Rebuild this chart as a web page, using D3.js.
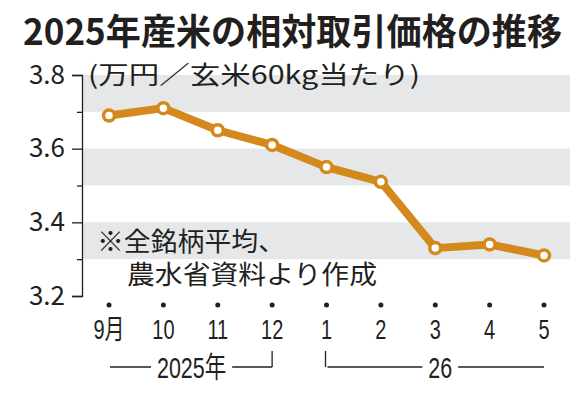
<!DOCTYPE html>
<html><head><meta charset="utf-8">
<script src="https://cdn.jsdelivr.net/npm/d3@7"></script>
<style>
html,body{margin:0;padding:0;background:#fff;}
svg{display:block;}
text{font-family:"Noto Sans CJK JP","Noto Sans",sans-serif;fill:#231f20;}
.dig{font-family:"Liberation Sans","Noto Sans CJK JP",sans-serif;}
</style></head>
<body>
<svg id="c" width="586" height="400"></svg>
<script>
const months = ["9月","10","11","12","1","2","3","4","5"];
const prices = [3.69, 3.71, 3.65, 3.61, 3.55, 3.51, 3.33, 3.34, 3.31];
const yTicks = [3.2, 3.4, 3.6, 3.8];
const yMinor = [3.3, 3.5, 3.7];
const bands = [[3.7, 3.8], [3.5, 3.6], [3.3, 3.4]];
const yearGroups = [
  {label:"2025年", from:"9月", to:"12", side:"right"},
  {label:"26", from:"1", to:"5", side:"left"}
];
const title = "2025年産米の相対取引価格の推移";
const unitLabel = "(万円／玄米60kg当たり)";
const noteLines = ["※全銘柄平均、", "農水省資料より作成"];

const svg = d3.select("#c");
const x = d3.scalePoint().domain(months).range([109, 544]);
const y = d3.scaleLinear().domain([3.2, 3.8]).range([296, 75]);
const axisX = 82, bandRight = 570;
const orange = "#d4891c";

// title
svg.append("text").attr("x", 23).attr("y", 45)
  .attr("font-size", 36).attr("font-weight", "bold")
  .attr("textLength", 539).attr("lengthAdjust", "spacingAndGlyphs")
  .text(title);

// bands
svg.append("g").selectAll("rect").data(bands).join("rect")
  .attr("x", axisX + 1).attr("width", bandRight - axisX - 1)
  .attr("y", d => y(d[1])).attr("height", d => y(d[0]) - y(d[1]))
  .attr("fill", "#e6e7e8");

// y axis
const gy = svg.append("g").attr("transform", `translate(${axisX},0)`)
  .call(d3.axisLeft(y).tickValues(yTicks).tickSize(10).tickSizeOuter(10).tickPadding(7)
    .tickFormat(d3.format(".1f")));
gy.selectAll("path,line").attr("stroke", "#231f20").attr("stroke-width", 1.3);
gy.selectAll("text").attr("font-size", 26).attr("font-family", "'Liberation Sans',sans-serif").attr("fill", "#231f20");
const gyMinor = svg.append("g").attr("transform", `translate(${axisX},0)`)
  .call(d3.axisLeft(y).tickValues(yMinor).tickSize(5).tickFormat(""));
gyMinor.select(".domain").remove();
gyMinor.selectAll("line").attr("stroke", "#231f20").attr("stroke-width", 1.3);

// unit label
svg.append("text").attr("x", 88).attr("y", 84)
  .attr("font-size", 25).attr("textLength", 332).attr("lengthAdjust", "spacingAndGlyphs")
  .text(unitLabel);

// note
svg.append("text").attr("x", 97).attr("y", 251).attr("font-size", 26)
  .attr("textLength", 188).attr("lengthAdjust", "spacingAndGlyphs").text(noteLines[0]);
svg.append("text").attr("x", 127).attr("y", 284).attr("font-size", 26)
  .attr("textLength", 250).attr("lengthAdjust", "spacingAndGlyphs").text(noteLines[1]);

// line
const line = d3.line().x((d, i) => x(months[i])).y(d => y(d));
svg.append("path").datum(prices).attr("d", line)
  .attr("fill", "none").attr("stroke", orange).attr("stroke-width", 8)
  .attr("stroke-linejoin", "round");
svg.append("g").selectAll("circle").data(prices).join("circle")
  .attr("cx", (d, i) => x(months[i])).attr("cy", d => y(d)).attr("r", 5.5)
  .attr("fill", "#fff").attr("stroke", orange).attr("stroke-width", 3.5);

// x axis dots and labels
svg.append("g").selectAll("circle").data(months).join("circle")
  .attr("cx", d => x(d)).attr("cy", 305).attr("r", 2.5).attr("fill", "#231f20");
svg.append("g").selectAll("text").data(months).join("text")
  .attr("class", "dig")
  .attr("transform", d => `translate(${x(d)},339) scale(0.74,1)`)
  .attr("text-anchor", "middle").attr("font-size", 27).text(d => d);

// year brackets
yearGroups.forEach(g => {
  const x0 = x(g.from), x1 = x(g.to), mid = (x0 + x1) / 2 + (g.side === "left" ? 5 : 1);
  const ly = 367;
  const t = svg.append("text").attr("class", "dig").attr("transform", `translate(${mid},378) scale(0.74,1)`)
    .attr("text-anchor", "middle").attr("font-size", 29).text(g.label);
  const w = t.node().getBBox().width * 0.74;
  const gap = 6;
  svg.append("line").attr("x1", x0 + 1).attr("x2", mid - w / 2 - gap).attr("y1", ly).attr("y2", ly)
    .attr("stroke", "#231f20").attr("stroke-width", 1.3);
  svg.append("line").attr("x1", mid + w / 2 + gap).attr("x2", x1).attr("y1", ly).attr("y2", ly)
    .attr("stroke", "#231f20").attr("stroke-width", 1.3);
  const vx = g.side === "right" ? x1 : x0 - 1;
  svg.append("line").attr("x1", vx).attr("x2", vx).attr("y1", ly).attr("y2", 351)
    .attr("stroke", "#231f20").attr("stroke-width", 1.3);
});
</script>
</body></html>
